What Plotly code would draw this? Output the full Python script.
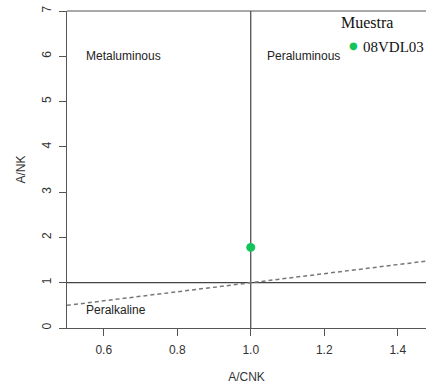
import plotly.graph_objects as go

# Data
sample_name = ["08VDL03"]
sample_acnk = [1.0]
sample_ank = [1.78]
sample_color = "#12c45a"
legend_title = "Muestra"

vline_x = [1.0, 1.0]
vline_y = [0, 7]
hline_x = [0.5, 1.5]
hline_y = [1.0, 1.0]
diag_x = [0.5, 1.5]
diag_y = [0.5, 1.5]

x_ticks = [0.6, 0.8, 1.0, 1.2, 1.4]
x_ticklabels = ["0.6", "0.8", "1.0", "1.2", "1.4"]
y_ticks = [0, 1, 2, 3, 4, 5, 6, 7]

region_labels = ["Metaluminous", "Peraluminous", "Peralkaline"]
region_x = [0.546, 1.04, 0.546]
region_y = [6.0, 6.0, 0.4]

fig = go.Figure()
fig.add_trace(go.Scatter(x=vline_x, y=vline_y, mode="lines",
                         line=dict(color="#444444", width=1.2), showlegend=False, hoverinfo="skip"))
fig.add_trace(go.Scatter(x=hline_x, y=hline_y, mode="lines",
                         line=dict(color="#444444", width=1.2), showlegend=False, hoverinfo="skip"))
fig.add_trace(go.Scatter(x=diag_x, y=diag_y, mode="lines",
                         line=dict(color="#777777", width=1.5, dash="4px,3px"), showlegend=False, hoverinfo="skip"))
fig.add_trace(go.Scatter(x=sample_acnk, y=sample_ank, mode="markers", name=sample_name[0],
                         marker=dict(color=sample_color, size=9), showlegend=False))

for t, x, y in zip(region_labels, region_x, region_y):
    fig.add_annotation(x=x, y=y, text=t, showarrow=False, xanchor="left", yanchor="middle",
                       font=dict(family="Liberation Sans, Arial", size=12, color="#222222"))

# manual legend (R-style, top right)
serif = "Liberation Serif, Times New Roman"
fig.add_annotation(xref="paper", yref="paper", x=0.758, y=0.964, text=legend_title,
                   showarrow=False, xanchor="left", yanchor="middle",
                   font=dict(family=serif, size=16, color="#111111"))
fig.add_annotation(xref="paper", yref="paper", x=0.797, y=0.89, text="●",
                   showarrow=False, xanchor="center", yanchor="middle",
                   font=dict(family="DejaVu Sans", size=10, color=sample_color))
fig.add_annotation(xref="paper", yref="paper", x=0.82, y=0.886, text=sample_name[0],
                   showarrow=False, xanchor="left", yanchor="middle",
                   font=dict(family=serif, size=15, color="#111111"))

# top border line
fig.add_shape(type="line", xref="paper", yref="paper", x0=0, x1=1.05, y0=1, y1=1,
              line=dict(color="#555555", width=1.2))

fig.update_layout(
    width=426, height=384,
    margin=dict(l=67, r=0, t=11, b=56, autoexpand=False),
    plot_bgcolor="white", paper_bgcolor="white",
    showlegend=False,
    font=dict(family="Liberation Sans, Arial", size=12, color="#333333"),
    xaxis=dict(range=[0.5, 1.4769], tickvals=x_ticks, ticktext=x_ticklabels,
               showgrid=False, zeroline=False, showline=True, linecolor="#555555", linewidth=1.2,
               ticks="outside", ticklen=7, tickcolor="#555555", ticklabelstandoff=3,
               title=dict(text="A/CNK", standoff=20, font=dict(size=12))),
    yaxis=dict(range=[0, 7], tickvals=y_ticks, tickangle=-90,
               showgrid=False, zeroline=False, showline=True, linecolor="#555555", linewidth=1.2,
               ticks="outside", ticklen=7, tickcolor="#555555", ticklabelstandoff=3,
               title=dict(text="A/NK", standoff=11, font=dict(size=12))),
)

fig.write_html("out.html")
